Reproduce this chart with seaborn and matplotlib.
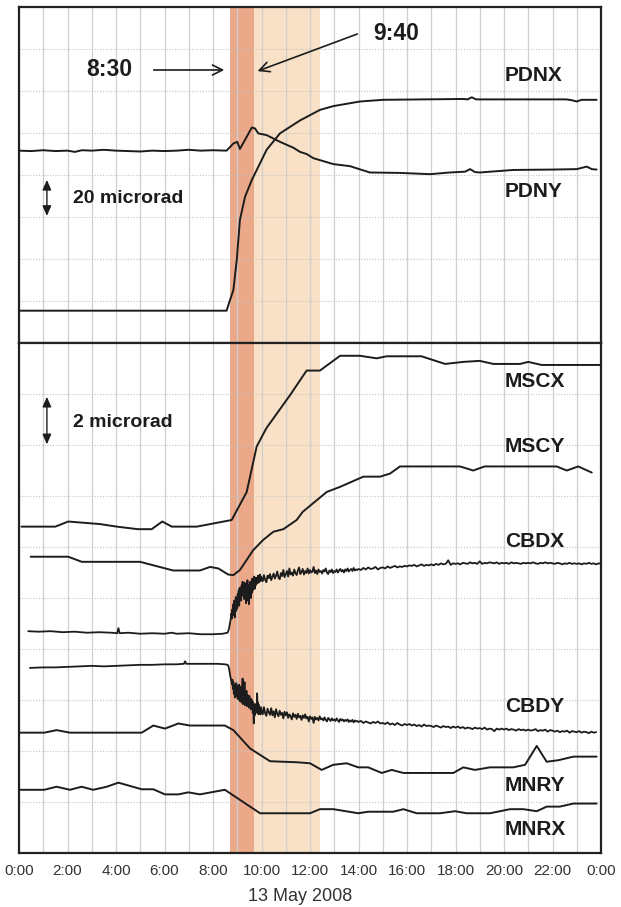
import numpy as np
import matplotlib
matplotlib.use("Agg")
import matplotlib.pyplot as plt
import seaborn as sns

# ------------------------------------------------------------------
# Time axis (hours of 13 May 2008)
# ------------------------------------------------------------------
hour_ticks = [0, 2, 4, 6, 8, 10, 12, 14, 16, 18, 20, 22, 24]
hour_labels = ["0:00", "2:00", "4:00", "6:00", "8:00", "10:00", "12:00",
               "14:00", "16:00", "18:00", "20:00", "22:00", "0:00"]
date_label = "13 May 2008"

# shaded intervals (hours)
event_band = (8.7, 9.7)
recovery_band = (9.7, 12.4)

# ------------------------------------------------------------------
# Upper panel (scale 20 microrad per arrow)
# ------------------------------------------------------------------
pdnx_t = [0.0, 8.56, 8.70, 8.84, 8.98, 9.11, 9.32, 9.60, 9.94, 10.21, 10.76,
          11.59, 12.41, 12.96, 14.06, 15.02, 16.67, 18.32, 18.50, 18.67, 18.85,
          20.50, 22.58, 22.80, 23.00, 23.20, 23.82]
pdnx_v = [0.77, 0.77, 1.02, 1.26, 1.98, 2.93, 3.48, 3.88, 4.28, 4.60, 4.99,
          5.30, 5.55, 5.64, 5.75, 5.79, 5.80, 5.81, 5.80, 5.85, 5.80,
          5.80, 5.80, 5.78, 5.75, 5.79, 5.79]

pdny_t = [0.0, 0.5, 1.0, 1.5, 2.0, 2.3, 2.6, 3.0, 3.5, 4.0, 4.5, 5.0, 5.5,
          6.0, 6.5, 7.0, 7.5, 8.0, 8.56, 8.84, 9.00, 9.11, 9.39, 9.60, 9.73,
          9.87, 10.21, 10.76, 11.31, 11.59, 11.86, 12.14, 12.96, 13.65, 14.47,
          15.71, 16.95, 17.77, 18.40, 18.60, 18.80, 19.00, 20.38, 22.03, 23.00,
          23.41, 23.62, 23.82]
pdny_v = [4.58, 4.57, 4.59, 4.57, 4.58, 4.55, 4.59, 4.58, 4.60, 4.58, 4.57,
          4.56, 4.58, 4.57, 4.58, 4.60, 4.58, 4.59, 4.58, 4.75, 4.79, 4.62,
          4.91, 5.13, 5.11, 4.99, 4.95, 4.79, 4.65, 4.55, 4.50, 4.40, 4.26,
          4.21, 4.06, 4.05, 4.02, 4.06, 4.08, 4.14, 4.07, 4.06, 4.12, 4.13,
          4.14, 4.20, 4.14, 4.13]

# ------------------------------------------------------------------
# Lower panel (scale 2 microrad per arrow)
# ------------------------------------------------------------------
mscx_t = [0.10, 1.50, 2.03, 3.34, 4.03, 4.90, 5.47, 5.91, 6.30, 7.33, 8.77,
          9.39, 9.80, 10.20, 11.18, 11.86, 12.41, 13.24, 14.06, 14.75, 15.16,
          16.60, 17.57, 18.32, 19.00, 19.56, 20.66, 21.00, 21.55, 24.00]
mscx_v = [6.40, 6.40, 6.50, 6.45, 6.40, 6.35, 6.35, 6.50, 6.40, 6.40, 6.53,
          7.08, 7.97, 8.33, 8.98, 9.46, 9.46, 9.75, 9.75, 9.70, 9.74,
          9.74, 9.59, 9.63, 9.65, 9.59, 9.59, 9.63, 9.57, 9.57]

mscy_t = [0.48, 2.03, 2.59, 4.99, 6.36, 7.46, 7.88, 8.22, 8.63, 8.84, 9.11,
          9.66, 10.07, 10.49, 10.90, 11.45, 11.70, 12.69, 13.24, 14.20, 14.89,
          15.30, 15.71, 18.19, 18.73, 19.20, 22.17, 22.59, 23.06, 23.62]
mscy_v = [5.81, 5.81, 5.71, 5.71, 5.54, 5.54, 5.61, 5.58, 5.46, 5.45, 5.55,
          5.94, 6.14, 6.30, 6.35, 6.53, 6.69, 7.08, 7.18, 7.38, 7.38,
          7.44, 7.58, 7.58, 7.50, 7.58, 7.58, 7.50, 7.58, 7.46]

# CBD channels: sparse samples while quiet, every 0.02 h through the event
# (8:36-9:59), every 0.05 h from 10:00 to 14:00, every 0.1 h afterwards
cbdx_quiet_t = [0.38, 0.8, 1.3, 1.8, 2.3, 2.8, 3.3, 3.8, 4.05, 4.1, 4.15,
                4.5, 5.0, 5.5, 6.0, 6.3, 6.5, 7.0, 7.5, 8.0, 8.4]
cbdx_quiet_v = [4.35, 4.34, 4.35, 4.33, 4.34, 4.32, 4.33, 4.32, 4.31, 4.41,
                4.31, 4.32, 4.30, 4.31, 4.30, 4.32, 4.30, 4.31, 4.29, 4.29, 4.30]
cbdx_event_v = [4.32, 4.34, 4.37, 4.40, 4.45, 4.50, 4.56, 4.62, 4.70, 4.60,
                4.78, 4.66, 4.88, 4.72, 4.95, 4.62, 4.85, 5.02, 4.75, 4.98,
                4.80, 5.08, 4.92, 5.15, 4.85, 5.20, 5.00, 5.12, 4.95, 5.25,
                5.05, 5.32, 5.10, 5.22, 4.98, 5.30, 5.08, 5.18, 4.90, 5.28,
                5.02, 5.35, 4.95, 5.20, 4.88, 5.26, 5.05, 5.32, 5.00, 5.22,
                5.10, 5.38, 5.15, 5.30, 5.20, 5.42, 5.18, 5.36, 5.25, 5.40,
                5.28, 5.38, 5.32, 5.44, 5.30, 5.40, 5.34, 5.46, 5.33, 5.42]
cbdx_mid_v = [5.40, 5.33, 5.45, 5.36, 5.31, 5.44, 5.39, 5.47, 5.35, 5.42,
              5.48, 5.38, 5.44, 5.52, 5.40, 5.37, 5.49, 5.43, 5.55, 5.41,
              5.47, 5.53, 5.42, 5.58, 5.46, 5.50, 5.44, 5.56, 5.49, 5.45,
              5.54, 5.60, 5.47, 5.51, 5.57, 5.46, 5.53, 5.49, 5.58, 5.48,
              5.55, 5.50, 5.52, 5.61, 5.49, 5.54, 5.47, 5.56, 5.51, 5.53,
              5.48, 5.55, 5.52, 5.58, 5.50, 5.47, 5.54, 5.51, 5.56, 5.49,
              5.53, 5.51, 5.56, 5.50, 5.54, 5.57, 5.52, 5.55, 5.50, 5.56,
              5.53, 5.58, 5.52, 5.55, 5.57, 5.53, 5.59, 5.54, 5.56, 5.55]
cbdx_late_v = [5.57, 5.55, 5.59, 5.56, 5.60, 5.57, 5.58, 5.61, 5.56, 5.59,
               5.60, 5.58, 5.62, 5.59, 5.61, 5.63, 5.60, 5.62, 5.61, 5.63,
               5.62, 5.64, 5.63, 5.65, 5.62, 5.64, 5.66, 5.63, 5.65, 5.64,
               5.66, 5.64, 5.67, 5.65, 5.68, 5.66, 5.67, 5.74, 5.65, 5.68,
               5.67, 5.68, 5.66, 5.69, 5.68, 5.67, 5.70, 5.68, 5.69, 5.67,
               5.72, 5.67, 5.69, 5.68, 5.70, 5.69, 5.68, 5.70, 5.67, 5.69,
               5.68, 5.69, 5.67, 5.70, 5.68, 5.69, 5.68, 5.67, 5.69, 5.68,
               5.69, 5.68, 5.70, 5.68, 5.67, 5.69, 5.68, 5.70, 5.68, 5.69,
               5.68, 5.67, 5.69, 5.68, 5.66, 5.68, 5.67, 5.69, 5.67, 5.68,
               5.67, 5.68, 5.66, 5.68, 5.67, 5.69, 5.67, 5.68, 5.66, 5.68,
               5.67]

cbdy_quiet_t = [0.45, 1.0, 1.5, 2.0, 2.5, 3.0, 3.5, 4.0, 4.5, 5.0, 5.5, 6.0,
                6.5, 6.8, 6.85, 6.9, 7.3, 7.8, 8.2, 8.5]
cbdy_quiet_v = [3.63, 3.64, 3.64, 3.65, 3.66, 3.67, 3.66, 3.67, 3.68, 3.69,
                3.69, 3.70, 3.70, 3.71, 3.76, 3.71, 3.71, 3.71, 3.71, 3.70]
cbdy_event_v = [3.69, 3.68, 3.66, 3.62, 3.57, 3.50, 3.45, 3.40, 3.36, 3.31,
                3.40, 3.22, 3.35, 3.12, 3.30, 3.05, 3.25, 3.15, 3.33, 3.08,
                3.28, 3.02, 3.22, 3.10, 3.30, 2.98, 3.18, 3.05, 3.26, 2.95,
                3.15, 3.42, 2.92, 3.20, 3.00, 3.35, 2.90, 3.12, 2.95, 3.18,
                2.88, 3.10, 2.96, 3.05, 2.85, 3.08, 2.92, 3.00, 2.82, 3.02,
                2.90, 2.98, 2.75, 2.95, 2.54, 2.85, 2.70, 2.92, 2.78, 2.88,
                2.76, 3.13, 2.74, 2.95, 2.72, 2.90, 2.76, 2.84, 2.72, 2.86]
cbdy_mid_v = [2.80, 2.72, 2.86, 2.74, 2.69, 2.83, 2.76, 2.71, 2.84, 2.70,
              2.78, 2.66, 2.82, 2.73, 2.68, 2.79, 2.71, 2.75, 2.64, 2.77,
              2.70, 2.76, 2.65, 2.72, 2.68, 2.62, 2.74, 2.67, 2.71, 2.63,
              2.73, 2.66, 2.69, 2.61, 2.70, 2.65, 2.72, 2.64, 2.67, 2.58,
              2.68, 2.63, 2.66, 2.55, 2.67, 2.62, 2.65, 2.60, 2.68, 2.62,
              2.64, 2.60, 2.66, 2.61, 2.58, 2.65, 2.62, 2.59, 2.64, 2.60,
              2.62, 2.59, 2.64, 2.60, 2.57, 2.63, 2.60, 2.62, 2.58, 2.61,
              2.59, 2.62, 2.57, 2.60, 2.58, 2.61, 2.56, 2.60, 2.58, 2.59]
cbdy_late_v = [2.57, 2.59, 2.55, 2.58, 2.56, 2.54, 2.57, 2.55, 2.58, 2.54,
               2.55, 2.53, 2.56, 2.52, 2.54, 2.51, 2.55, 2.52, 2.50, 2.53,
               2.51, 2.53, 2.50, 2.52, 2.49, 2.51, 2.48, 2.52, 2.49, 2.50,
               2.49, 2.47, 2.50, 2.48, 2.46, 2.49, 2.47, 2.48, 2.45, 2.48,
               2.46, 2.48, 2.45, 2.47, 2.44, 2.46, 2.45, 2.43, 2.46, 2.44,
               2.45, 2.43, 2.46, 2.42, 2.44, 2.43, 2.39, 2.44, 2.42, 2.44,
               2.42, 2.44, 2.41, 2.43, 2.42, 2.40, 2.43, 2.41, 2.42, 2.40,
               2.42, 2.40, 2.41, 2.43, 2.39, 2.41, 2.40, 2.42, 2.38, 2.41,
               2.40, 2.38, 2.40, 2.37, 2.39, 2.38, 2.40, 2.36, 2.39, 2.38,
               2.37, 2.39, 2.36, 2.38, 2.37, 2.35, 2.38, 2.36, 2.37]

mnry_t = [0.0, 1.04, 1.55, 2.10, 5.06, 5.54, 6.02, 6.57, 7.05, 8.49, 8.84,
          9.53, 10.35, 11.45, 12.00, 12.48, 12.96, 13.51, 13.99, 14.40, 14.96,
          15.37, 15.85, 17.91, 18.32, 18.80, 19.42, 20.38, 20.87, 21.35, 21.76,
          22.24, 22.86, 23.82]
mnry_v = [2.36, 2.36, 2.41, 2.36, 2.36, 2.50, 2.44, 2.54, 2.50, 2.50, 2.41,
          2.05, 1.80, 1.78, 1.76, 1.63, 1.73, 1.76, 1.68, 1.68, 1.57,
          1.63, 1.57, 1.57, 1.68, 1.63, 1.68, 1.68, 1.73, 2.10, 1.79,
          1.82, 1.89, 1.89]

mnrx_t = [0.0, 1.04, 1.55, 2.10, 2.58, 3.06, 3.62, 4.10, 5.06, 5.54, 6.02,
          6.57, 6.98, 7.46, 8.49, 9.94, 12.00, 12.41, 12.96, 13.99, 14.40,
          15.43, 15.85, 16.40, 17.36, 17.98, 18.46, 19.42, 20.25, 20.80, 21.35,
          21.76, 22.30, 22.86, 23.82]
mnrx_v = [1.24, 1.24, 1.30, 1.24, 1.30, 1.24, 1.30, 1.38, 1.25, 1.25, 1.15,
          1.15, 1.19, 1.15, 1.24, 0.78, 0.78, 0.86, 0.86, 0.78, 0.81,
          0.81, 0.86, 0.78, 0.78, 0.82, 0.78, 0.78, 0.86, 0.86, 0.82,
          0.91, 0.91, 0.97, 0.97]

# sampling grids of the densely logged CBD channels
event_grid = np.round(np.arange(8.60, 9.99, 0.02), 2)
mid_grid = np.round(np.arange(10.0, 13.99, 0.05), 2)
cbdx_late_grid = np.round(np.arange(14.0, 24.001, 0.1), 1)
cbdy_late_grid = np.round(np.arange(14.0, 23.801, 0.1), 1)

cbdx_t = np.concatenate([cbdx_quiet_t, event_grid, mid_grid, cbdx_late_grid])
cbdx_v = np.concatenate([cbdx_quiet_v, cbdx_event_v, cbdx_mid_v, cbdx_late_v])
cbdy_t = np.concatenate([cbdy_quiet_t, event_grid, mid_grid, cbdy_late_grid])
cbdy_v = np.concatenate([cbdy_quiet_v, cbdy_event_v, cbdy_mid_v, cbdy_late_v])

# channel name labels: (text, y position)
top_names = [("PDNX", 6.36), ("PDNY", 3.60)]
bottom_names = [("MSCX", 9.24), ("MSCY", 7.97), ("CBDX", 6.10),
                ("CBDY", 2.88), ("MNRY", 1.33), ("MNRX", 0.46)]

# ------------------------------------------------------------------
# Styling
# ------------------------------------------------------------------
sns.set_theme(style="white")
plt.rcParams["font.family"] = ["Liberation Sans", "DejaVu Sans"]

INK = "#1c1c1c"
FRAME = "#222222"
VGRID = "#cfcfcf"
HGRID = "#c4c4c4"
EVENT_COL = "#EBA98A"
RECOVERY_COL = "#F8E1C6"

fig = plt.figure(figsize=(6.21, 9.07), dpi=100)
ax_top = fig.add_axes([0.0306, 0.6218, 0.9372, 0.3705])
ax_bot = fig.add_axes([0.0306, 0.0595, 0.9372, 0.5623])


def style_panel(ax, ymax):
    ax.set_xlim(0, 24)
    ax.set_ylim(0, ymax)
    ax.axvspan(*event_band, color=EVENT_COL, lw=0, zorder=0.2)
    ax.axvspan(*recovery_band, color=RECOVERY_COL, lw=0, zorder=0.2)
    ax.set_axisbelow(True)
    ax.set_xticks(hour_ticks)
    ax.set_xticks(range(1, 24, 2), minor=True)
    ax.set_yticks(range(1, ymax))
    ax.set_yticklabels([])
    ax.grid(True, which="both", axis="x", color=VGRID, lw=0.9, ls="-")
    ax.grid(True, which="major", axis="y", color=HGRID, lw=0.8, ls=(0, (1, 1.5)))
    ax.tick_params(axis="y", length=0)
    for sp in ax.spines.values():
        sp.set_color(FRAME)
        sp.set_linewidth(1.6)
        sp.set_visible(True)


def draw(ax, t, v, lw=1.4):
    sns.lineplot(x=np.asarray(t, float), y=np.asarray(v, float), ax=ax,
                 color=INK, linewidth=lw, estimator=None, sort=False,
                 zorder=3)
    ax.set_xlabel("")
    ax.set_ylabel("")


# ---- upper panel ----
style_panel(ax_top, 8)
draw(ax_top, pdnx_t, pdnx_v)
draw(ax_top, pdny_t, pdny_v)
ax_top.tick_params(axis="x", which="both", length=0, labelbottom=False)
for name, y in top_names:
    ax_top.text(20.04, y, name, fontsize=15, fontweight="bold", color=INK,
                ha="left", va="center")

ax_top.text(3.71, 6.5, "8:30", fontsize=16.5, fontweight="bold", color=INK,
            ha="center", va="center")
ax_top.annotate("", xy=(8.58, 6.5), xytext=(5.44, 6.5),
                arrowprops=dict(arrowstyle="->,head_length=0.6,head_width=0.3",
                                color=INK, lw=1.2))
ax_top.text(15.55, 7.38, "9:40", fontsize=16.5, fontweight="bold", color=INK,
            ha="center", va="center")
ax_top.annotate("", xy=(9.73, 6.45), xytext=(14.06, 7.38),
                arrowprops=dict(arrowstyle="->,head_length=0.6,head_width=0.3",
                                color=INK, lw=1.2))

ax_top.annotate("", xy=(1.15, 3.95), xytext=(1.15, 2.96),
                arrowprops=dict(arrowstyle="<|-|>,head_length=0.5,head_width=0.22",
                                color=INK, lw=1.0))
ax_top.text(2.23, 3.45, "20 microrad", fontsize=14, fontweight="bold",
            color=INK, ha="left", va="center")

# ---- lower panel ----
style_panel(ax_bot, 10)
draw(ax_bot, mscx_t, mscx_v)
draw(ax_bot, mscy_t, mscy_v)
draw(ax_bot, cbdx_t, cbdx_v, lw=1.3)
draw(ax_bot, cbdy_t, cbdy_v, lw=1.3)
draw(ax_bot, mnry_t, mnry_v)
draw(ax_bot, mnrx_t, mnrx_v)
for name, y in bottom_names:
    ax_bot.text(20.04, y, name, fontsize=15, fontweight="bold", color=INK,
                ha="left", va="center")

ax_bot.annotate("", xy=(1.15, 9.0), xytext=(1.15, 7.96),
                arrowprops=dict(arrowstyle="<|-|>,head_length=0.5,head_width=0.22",
                                color=INK, lw=1.0))
ax_bot.text(2.23, 8.45, "2 microrad", fontsize=14, fontweight="bold",
            color=INK, ha="left", va="center")

ax_bot.set_xticklabels(hour_labels)
ax_bot.tick_params(axis="x", which="major", length=0, pad=8,
                   labelsize=11, labelcolor="#333333")
ax_bot.tick_params(axis="x", which="minor", length=5, width=0.9,
                   color=VGRID, direction="out")
ax_bot.set_xlabel(date_label, fontsize=13, color="#333333", labelpad=7)
ax_bot.xaxis.label.set_x(0.483)

fig.savefig("out.png", dpi=100)
